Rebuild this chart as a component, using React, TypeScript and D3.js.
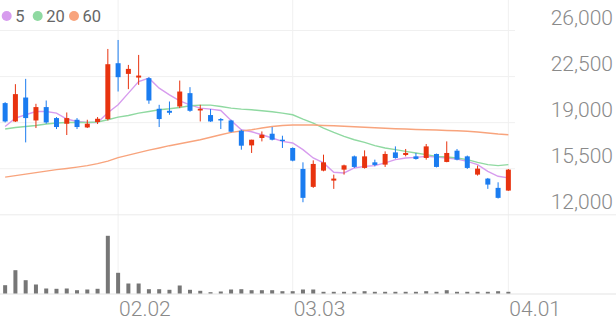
import React from "react";
import * as d3 from "d3";

const W = 616;
const H = 321;

const opens = [20485, 19091, 20909, 19166, 20182, 19348, 18917, 19220, 18636, 19045,
  19273, 23515, 22704, 22424, 22379, 20053, 19901, 20227, 21242, 19924,
  19576, 19273, 19166, 18386, 17273, 17833, 18159, 17704, 17076, 15485,
  14121, 15356, 14598, 15431, 16439, 15560, 15985, 15810, 16742, 16545,
  16439, 16318, 16621, 16015, 16871, 16439, 15053, 14750, 14045, 13840];
const highs = [20560, 21924, 22326, 20432, 20682, 19424, 19773, 19348, 19220, 19424,
  24598, 25280, 23386, 24144, 22455, 20356, 20606, 22197, 21697, 20356,
  20030, 19348, 19220, 18462, 17704, 18333, 18667, 18007, 17121, 15985,
  16136, 16568, 15053, 15810, 16500, 16894, 16189, 16818, 17197, 17000,
  16697, 17379, 16650, 17576, 17000, 16500, 15734, 14800, 14469, 15480];
const lows = [19015, 19050, 17500, 18591, 18917, 18515, 18060, 18515, 18591, 18894,
  19166, 21364, 21545, 21871, 20432, 18667, 19598, 20106, 19826, 19091,
  19060, 18515, 18257, 16947, 16697, 17576, 17651, 17076, 16061, 12954,
  14045, 15303, 13969, 15053, 15560, 15507, 15682, 15636, 16265, 16439,
  16189, 16189, 15600, 15990, 16136, 15485, 14977, 13969, 13235, 13820];
const closes = [19091, 21167, 19348, 20182, 19015, 18667, 19348, 18667, 18917, 19295,
  23439, 22455, 23083, 22576, 20682, 19273, 19750, 21364, 19901, 20053,
  19091, 19166, 18310, 17250, 17704, 18083, 17704, 17606, 16114, 13287,
  15863, 15985, 14750, 15757, 15636, 16439, 15788, 16621, 16318, 16697,
  16242, 17197, 15636, 16697, 16189, 15560, 15507, 14295, 13287, 15431];
const volumes = [830, 2330, 1330, 900, 500, 470, 500, 330, 400, 470,
  5770, 2070, 1000, 1000, 430, 430, 370, 800, 370, 270,
  130, 200, 400, 430, 330, 330, 330, 230, 230, 400,
  400, 170, 170, 170, 170, 230, 170, 170, 170, 170,
  170, 230, 170, 330, 170, 170, 170, 170, 230, 170];
const ma5 = [18712, 19348, 19598, 19848, 19848, 19727, 19273, 19091, 19015, 19015,
  19750, 20356, 21242, 22121, 22379, 21621, 21113, 20659, 20356, 20106,
  20030, 19924, 19166, 18462, 18310, 18083, 17833, 17575, 17454, 16947,
  16318, 15939, 15227, 15181, 15560, 15681, 15735, 15939, 16189, 16318,
  16363, 16439, 16394, 16318, 16242, 16060, 15810, 15303, 14924, 14803];
const ma20 = [18515, 18636, 18712, 18788, 18894, 18969, 19015, 19015, 19015, 19045,
  19220, 19424, 19545, 19727, 19848, 19977, 20053, 20151, 20280, 20333,
  20333, 20227, 20106, 20030, 19977, 19901, 19826, 19727, 19598, 19273,
  18969, 18591, 18257, 17954, 17704, 17500, 17250, 17075, 16947, 16818,
  16697, 16568, 16439, 16394, 16318, 16189, 15985, 15810, 15735, 15810];
const ma60 = [14863, 14977, 15091, 15204, 15318, 15431, 15522, 15621, 15735, 15886,
  16075, 16341, 16530, 16719, 16909, 17075, 17250, 17401, 17553, 17704,
  17894, 18083, 18257, 18363, 18462, 18591, 18712, 18788, 18818, 18825,
  18818, 18788, 18765, 18727, 18689, 18651, 18614, 18576, 18538, 18515,
  18485, 18462, 18439, 18409, 18386, 18348, 18288, 18212, 18136, 18083];

const priceTicks = [12000, 15500, 19000, 22500, 26000];
const dateTickIndex = [11, 28, 49];
const dateTickLabels = ["02.02", "03.03", "04.01"];
const legendLabels = ["5", "20", "60"];

const UP = "#e8330f";
const DOWN = "#1a7cf0";
const MA_COLORS = ["#d79cee", "#8fd9a1", "#f8a47d"];
const FONT = "Roboto, 'Noto Sans', sans-serif";

export default function App() {
  const idx = d3.range(closes.length);
  const x = d3.scaleBand<number>().domain(idx).range([0, 513.5]).padding(0);
  const cx = (i: number) => (x(i) as number) + x.bandwidth() / 2;
  const y = d3.scaleLinear().domain([12000, 26000]).range([214.8, 30.5]);
  const vy = d3.scaleLinear().domain([0, 6800]).range([293.5, 225.5]);
  const line = d3
    .line<number>()
    .x((_, i) => cx(i))
    .y((d) => y(d))
    .curve(d3.curveLinear);
  const mas = [ma5, ma20, ma60];
  const bodyW = 5;
  const volW = 4;
  const legendX = [6.7, 37.7, 74];

  return (
    <svg
      width={W}
      height={H}
      style={{ position: "absolute", left: 0, top: 0, background: "#fff" }}
      fontFamily={FONT}
    >
      {/* vertical grid */}
      {dateTickIndex.map((di) => (
        <line key={"vg" + di} x1={cx(di)} x2={cx(di)} y1={0} y2={294} stroke="#f0f0f0" strokeWidth={1} />
      ))}
      {/* horizontal grid */}
      {priceTicks.map((t) => (
        <line
          key={"hg" + t}
          x1={0}
          x2={t === 12000 ? W : 515}
          y1={y(t)}
          y2={y(t)}
          stroke={t === 12000 ? "#ebebeb" : "#f0f0f0"}
          strokeWidth={1}
        />
      ))}
      {/* volume baseline */}
      <line x1={0} x2={W} y1={294} y2={294} stroke="#e3e3e3" strokeWidth={1} />
      {/* price labels */}
      {priceTicks.map((t) => (
        <text
          key={"pl" + t}
          x={613}
          y={y(t) - 6}
          textAnchor="end"
          fontSize={21}
          fill="#8a8a8a"
          fontWeight={300}
        >
          {d3.format(",")(t)}
        </text>
      ))}
      {/* date labels */}
      {dateTickIndex.map((di, k) => (
        <text key={"dl" + di} x={cx(di) + 1} y={315.5} fontSize={21} fill="#8a8a8a" fontWeight={300}>
          {dateTickLabels[k]}
        </text>
      ))}
      {/* moving averages */}
      {mas.map((m, k) => (
        <path key={"ma" + k} d={line(m) || ""} fill="none" stroke={MA_COLORS[k]} strokeWidth={1.4} />
      ))}
      {/* candles */}
      {idx.map((i) => {
        const o = opens[i];
        const c = closes[i];
        const up = c >= o;
        const col = up ? UP : DOWN;
        const top = y(Math.max(o, c));
        const bot = y(Math.min(o, c));
        return (
          <g key={"c" + i}>
            <line x1={cx(i)} x2={cx(i)} y1={y(highs[i])} y2={y(lows[i])} stroke={col} strokeWidth={1} />
            <rect x={cx(i) - bodyW / 2} y={top} width={bodyW} height={Math.max(1.2, bot - top)} fill={col} />
          </g>
        );
      })}
      {/* volumes */}
      {idx.map((i) => (
        <rect
          key={"v" + i}
          x={cx(i) - volW / 2}
          y={vy(volumes[i])}
          width={volW}
          height={vy(0) - vy(volumes[i])}
          fill="#767676"
        />
      ))}
      {/* legend */}
      {legendLabels.map((l, k) => (
        <g key={"lg" + k}>
          <circle cx={legendX[k]} cy={16} r={5} fill={MA_COLORS[k]} />
          <text x={legendX[k] + 8.5} y={21.5} fontSize={16.5} fill="#666">
            {l}
          </text>
        </g>
      ))}
    </svg>
  );
}
